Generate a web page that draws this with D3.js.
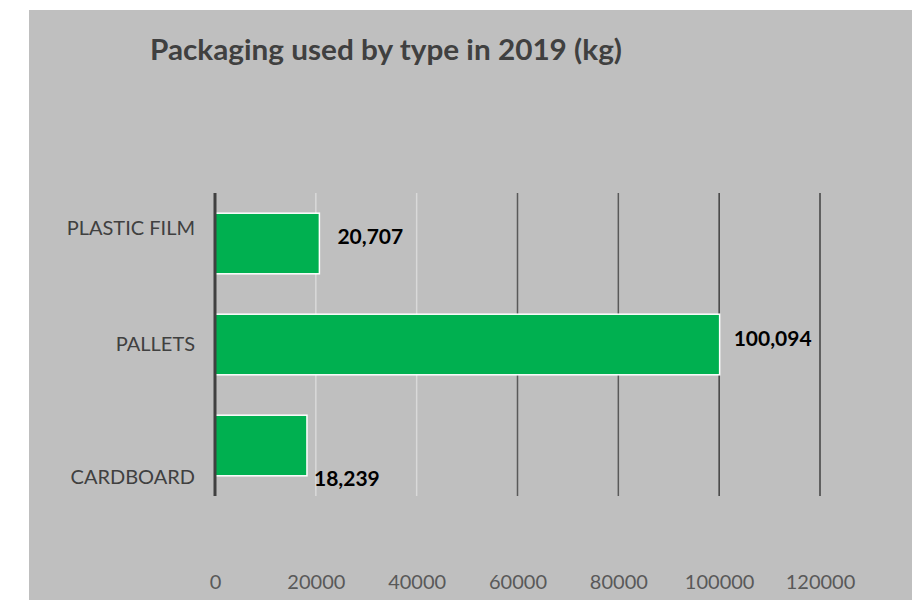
<!DOCTYPE html>
<html>
<head>
<meta charset="utf-8">
<script src="https://cdn.jsdelivr.net/npm/d3@7"></script>
<style>
    html, body { margin: 0; padding: 0; background: #ffffff; }
    svg { display: block; }
</style>
</head>
<body>
<div id="chart"></div>
<script>
"use strict";

const categories = ['PLASTIC FILM', 'PALLETS', 'CARDBOARD'];
const values = [20707, 100094, 18239];
const tick_values = [0, 20000, 40000, 60000, 80000, 100000, 120000];
const title = 'Packaging used by type in 2019 (kg)';

const width = 912, height = 600;
const margin = {top: 193, right: 92, bottom: 104, left: 215};
const plot_height = height - margin.top - margin.bottom;
const font = 'Lato, "Open Sans", sans-serif';

// grid strokes: the first ones come out pale
const grid_colors = ['#404040', '#d9d9d9', '#d9d9d9', '#595959', '#595959', '#404040', '#404040'];

const svg = d3.select('#chart').append('svg')
    .attr('width', width)
    .attr('height', height);

// grey canvas, white strip on top and left
svg.append('rect')
    .attr('x', 29).attr('y', 10)
    .attr('width', width - 29).attr('height', height - 10)
    .style('fill', '#bfbfbf');

svg.append('text')
    .attr('x', 150).attr('y', 60)
    .attr('textLength', 472)
    .attr('lengthAdjust', 'spacingAndGlyphs')
    .style('font-family', font)
    .style('font-size', '28px')
    .style('font-weight', 'bold')
    .style('fill', '#404040')
    .text(title);

const xScale = d3.scaleLinear().domain([0, 120000]).range([0, 605]);
const yScale = d3.scaleBand().domain(categories).range([0, plot_height]).paddingInner(0.4).paddingOuter(0.2);

const content = svg.append('g')
    .attr('transform', `translate(${margin.left},${margin.top})`);

const xAxis = d3.axisBottom(xScale)
    .tickValues(tick_values)
    .tickFormat(d3.format('d'))
    .tickSizeInner(0)
    .tickSizeOuter(0)
    .tickPadding(0);

// gridlines
content.append('g')
    .attr('class', 'grid')
    .selectAll('line')
    .data(tick_values.slice(1))
    .join('line')
    .attr('x1', d => xScale(d)).attr('x2', d => xScale(d))
    .attr('y1', 0).attr('y2', plot_height)
    .style('stroke', (d, i) => grid_colors[i + 1])
    .style('stroke-width', 1.5);

// tick labels sit well below the plot
const axis_g = content.append('g')
    .attr('class', 'x axis')
    .attr('transform', `translate(0,${plot_height + 79})`)
    .call(xAxis);
axis_g.select('.domain').remove();
axis_g.selectAll('text')
    .style('font-family', font)
    .style('font-size', '20px')
    .style('fill', '#595959');

content.selectAll('.bar')
    .data(values)
    .join('rect')
    .attr('class', 'bar')
    .attr('x', 0)
    .attr('y', (d, i) => yScale(categories[i]))
    .attr('width', d => xScale(d))
    .attr('height', yScale.bandwidth())
    .style('fill', '#00b050')
    .style('stroke', '#ffffff')
    .style('stroke-width', 1.5);

// category axis line
content.append('line')
    .attr('x1', 0).attr('x2', 0)
    .attr('y1', 0).attr('y2', plot_height)
    .style('stroke', '#404040')
    .style('stroke-width', 3);

// label placement as it appears: the last one drops to the bottom of its band
const cat_dy = [-16, -1, 31];
content.selectAll('.cat')
    .data(categories)
    .join('text')
    .attr('class', 'cat')
    .attr('x', -20)
    .attr('y', (d, i) => yScale(d) + yScale.bandwidth() / 2 + cat_dy[i])
    .attr('dy', '0.35em')
    .attr('text-anchor', 'end')
    .style('font-family', font)
    .style('font-size', '20px')
    .style('fill', '#404040')
    .text(d => d);

const val_dx = [18, 14, 7], val_dy = [-7, -6, 33];
content.selectAll('.val')
    .data(values)
    .join('text')
    .attr('class', 'val')
    .attr('x', (d, i) => xScale(d) + val_dx[i])
    .attr('y', (d, i) => yScale(categories[i]) + yScale.bandwidth() / 2 + val_dy[i])
    .attr('dy', '0.35em')
    .style('font-family', font)
    .style('font-size', '21px')
    .style('font-weight', 'bold')
    .style('fill', '#000000')
    .text(d => d3.format(',')(d));
</script>
</body>
</html>
